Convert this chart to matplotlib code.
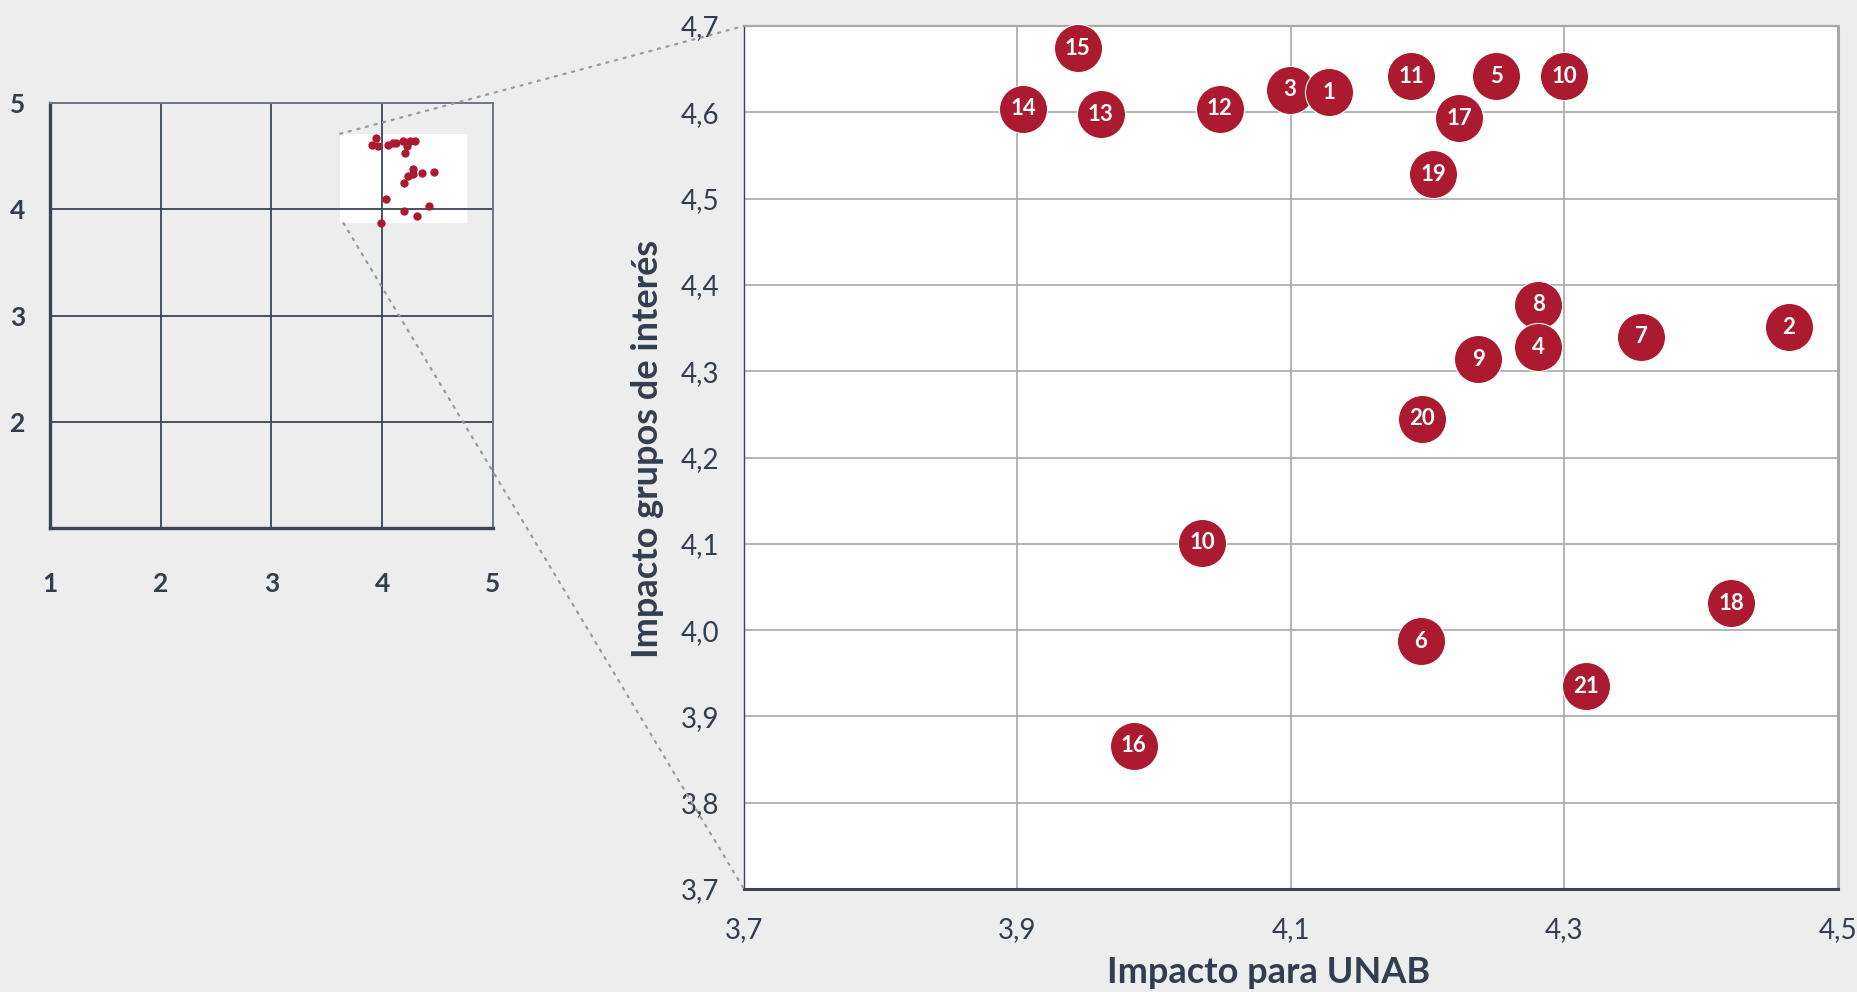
import matplotlib.pyplot as plt
from matplotlib.patches import Rectangle, ConnectionPatch

plt.rcParams['font.family'] = ['Lato', 'DejaVu Sans']

# datos
etiquetas = ['15', '14', '13', '12', '3', '1', '11', '5', '10', '17', '19',
             '8', '4', '7', '2', '9', '20', '10', '18', '6', '21', '16']
impacto_unab = [3.944, 3.904, 3.961, 4.048, 4.099, 4.128, 4.188, 4.250, 4.300, 4.223, 4.204,
                4.281, 4.281, 4.356, 4.464, 4.237, 4.196, 4.035, 4.422, 4.195, 4.316, 3.985]
impacto_grupos = [4.674, 4.604, 4.598, 4.604, 4.626, 4.623, 4.642, 4.642, 4.642, 4.593, 4.528,
                  4.377, 4.328, 4.340, 4.351, 4.314, 4.245, 4.101, 4.031, 3.987, 3.935, 3.866]

x_ticks_main = [3.7, 3.9, 4.1, 4.3, 4.5]
y_ticks_main = [3.7, 3.8, 3.9, 4.0, 4.1, 4.2, 4.3, 4.4, 4.5, 4.6, 4.7]
ticks_mini = [1, 2, 3, 4, 5]

fondo = '#ededed'
rojo = '#ab1a2f'
texto = '#323d50'
navy = '#3a4455'
gris = '#a8a8a8'


def coma(v):
    return f"{v:.1f}".replace('.', ',')


fig = plt.figure(figsize=(18.58, 9.92), dpi=100, facecolor=fondo)

# --- gráfico pequeño (vista completa 1-5) ---
mini = fig.add_axes([0.0269, 0.4677, 0.2384, 0.4285])
mini.set_facecolor(fondo)
mini.set_xlim(1, 5)
mini.set_ylim(1, 5)
mini.set_axisbelow(True)
mini.set_xticks(ticks_mini)
mini.set_xticklabels([str(t) for t in ticks_mini])
mini.set_yticks(ticks_mini)
mini.set_yticklabels([''] + [str(t) for t in ticks_mini[1:]])
mini.tick_params(length=0, labelsize=19, colors=texto, pad=32)
mini.tick_params(axis='y', pad=18)
for lab in mini.get_xticklabels() + mini.get_yticklabels():
    lab.set_fontweight('bold')
mini.grid(True, color=navy, linewidth=1.3)
for s in ['top', 'right']:
    mini.spines[s].set_color('#707888')
    mini.spines[s].set_linewidth(1.4)
for s in ['left', 'bottom']:
    mini.spines[s].set_color(navy)
    mini.spines[s].set_linewidth(2.4)

x0, y0, x1, y1 = 3.62, 3.87, 4.77, 4.71
mini.add_patch(Rectangle((x0, y0), x1 - x0, y1 - y0, facecolor='white',
                         edgecolor='none', zorder=0.2))
mini.scatter(impacto_unab, impacto_grupos, s=36, color=rojo, zorder=3, linewidths=0)

# --- gráfico principal (zoom) ---
ax = fig.add_axes([0.4004, 0.1038, 0.5888, 0.8700])
ax.set_facecolor('white')
ax.set_xlim(3.7, 4.5)
ax.set_ylim(3.7, 4.7)
ax.set_axisbelow(True)
ax.set_xticks(x_ticks_main)
ax.set_xticklabels([coma(v) for v in x_ticks_main])
ax.set_yticks(y_ticks_main)
ax.set_yticklabels([coma(v) for v in y_ticks_main])
ax.tick_params(length=0, labelsize=20, colors=texto)
ax.tick_params(axis='x', pad=20)
ax.tick_params(axis='y', pad=18)
ax.grid(True, color=gris, linewidth=1.2)
ax.spines['left'].set_color(navy)
ax.spines['left'].set_linewidth(1.0)
ax.spines['bottom'].set_color(navy)
ax.spines['bottom'].set_linewidth(2.2)
ax.spines['top'].set_color(gris)
ax.spines['top'].set_linewidth(1.6)
ax.spines['right'].set_color(gris)
ax.spines['right'].set_linewidth(2.2)

ax.set_xlabel('Impacto para UNAB', fontsize=26, fontweight='bold', color=texto)
ax.xaxis.set_label_coords(0.48, -0.078)
ax.set_ylabel('Impacto grupos de interés', fontsize=26, fontweight='bold', color=texto)
ax.yaxis.set_label_coords(-0.073, 0.51)

for i, (xv, yv, lab) in enumerate(zip(impacto_unab, impacto_grupos, etiquetas)):
    ax.scatter(xv, yv, s=1200, color=rojo, edgecolors='white', linewidths=0.8,
               zorder=3 + i * 0.01, clip_on=False)
    ax.text(xv, yv, lab, color='white', fontsize=16, fontweight='bold',
            ha='center', va='center', zorder=3.005 + i * 0.01)

# líneas punteadas de conexión
for (xa, ya), (xb, yb) in [((x0, y1), (3.7, 4.7)), ((x0 + 0.03, y0), (3.7, 3.7))]:
    con = ConnectionPatch(xyA=(xa, ya), coordsA=mini.transData,
                          xyB=(xb, yb), coordsB=ax.transData,
                          color='#9a9a9a', linewidth=1.6, linestyle=(0, (1, 3)))
    fig.add_artist(con)

fig.savefig('out.png', dpi=100, facecolor=fondo)
